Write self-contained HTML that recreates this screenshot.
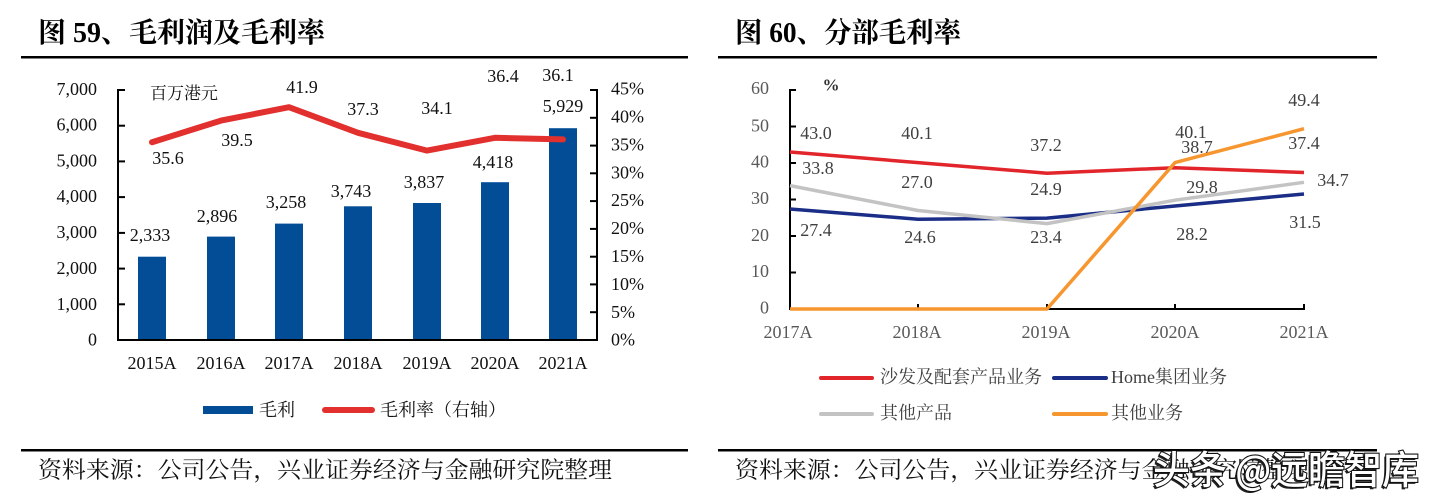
<!DOCTYPE html>
<html>
<head>
<meta charset="utf-8">
<style>
  html,body{margin:0;padding:0;background:#fff;}
  body{width:1433px;height:504px;overflow:hidden;}
  svg{display:block;}
  .serif{font-family:"Liberation Serif","Noto Serif CJK SC",serif;}
  .cjk{font-family:"Liberation Serif","Noto Serif CJK SC","Noto Sans CJK SC",serif;}
</style>
</head>
<body>
<svg width="1433" height="504" viewBox="0 0 1433 504" xmlns="http://www.w3.org/2000/svg">
  <rect width="1433" height="504" fill="#fff"/>

  <!-- ================= LEFT CHART ================= -->
  <text x="38" y="42" class="cjk" font-size="28" font-weight="700" fill="#000" textLength="287" lengthAdjust="spacingAndGlyphs">图 59、毛利润及毛利率</text>
  <rect x="21" y="56" width="667" height="2.5" fill="#000"/>

  <!-- bars -->
  <g fill="#034D97">
    <rect x="138" y="256.7" width="28" height="83.3"/>
    <rect x="207" y="236.6" width="28" height="103.4"/>
    <rect x="275" y="223.6" width="28" height="116.4"/>
    <rect x="344" y="206.3" width="28" height="133.7"/>
    <rect x="413" y="203" width="28" height="137"/>
    <rect x="481" y="182.2" width="28" height="157.8"/>
    <rect x="549" y="128.2" width="28" height="211.8"/>
  </g>

  <!-- axes -->
  <g stroke="#000" stroke-width="2" fill="none">
    <line x1="118" y1="89" x2="118" y2="341"/>
    <line x1="597" y1="89" x2="597" y2="341"/>
    <line x1="117" y1="340" x2="598" y2="340"/>
    <line x1="118" y1="90" x2="125" y2="90"/>
    <line x1="118" y1="125.7" x2="125" y2="125.7"/>
    <line x1="118" y1="161.4" x2="125" y2="161.4"/>
    <line x1="118" y1="197.1" x2="125" y2="197.1"/>
    <line x1="118" y1="232.9" x2="125" y2="232.9"/>
    <line x1="118" y1="268.6" x2="125" y2="268.6"/>
    <line x1="118" y1="304.3" x2="125" y2="304.3"/>
    <line x1="590" y1="90" x2="597" y2="90"/>
    <line x1="590" y1="117.8" x2="597" y2="117.8"/>
    <line x1="590" y1="145.6" x2="597" y2="145.6"/>
    <line x1="590" y1="173.3" x2="597" y2="173.3"/>
    <line x1="590" y1="201.1" x2="597" y2="201.1"/>
    <line x1="590" y1="228.9" x2="597" y2="228.9"/>
    <line x1="590" y1="256.7" x2="597" y2="256.7"/>
    <line x1="590" y1="284.4" x2="597" y2="284.4"/>
    <line x1="590" y1="312.2" x2="597" y2="312.2"/>
  </g>

  <!-- left tick labels -->
  <g class="serif" font-size="18" fill="#111" text-anchor="end" dominant-baseline="central">
    <text x="97" y="89">7,000</text>
    <text x="97" y="124.7">6,000</text>
    <text x="97" y="160.4">5,000</text>
    <text x="97" y="196.1">4,000</text>
    <text x="97" y="232">3,000</text>
    <text x="97" y="268">2,000</text>
    <text x="97" y="304">1,000</text>
    <text x="97" y="339.5">0</text>
  </g>
  <!-- right tick labels -->
  <g class="serif" font-size="18" fill="#111" dominant-baseline="central">
    <text x="611" y="88.5">45%</text>
    <text x="611" y="116.5">40%</text>
    <text x="611" y="144.5">35%</text>
    <text x="611" y="172.3">30%</text>
    <text x="611" y="200">25%</text>
    <text x="611" y="228">20%</text>
    <text x="611" y="256">15%</text>
    <text x="611" y="284">10%</text>
    <text x="611" y="312">5%</text>
    <text x="611" y="339.5">0%</text>
  </g>
  <!-- x labels -->
  <g class="serif" font-size="18" fill="#111" text-anchor="middle" dominant-baseline="central">
    <text x="152" y="363">2015A</text>
    <text x="221" y="363">2016A</text>
    <text x="289" y="363">2017A</text>
    <text x="358" y="363">2018A</text>
    <text x="427" y="363">2019A</text>
    <text x="495" y="363">2020A</text>
    <text x="563" y="363">2021A</text>
  </g>

  <!-- red line -->
  <polyline points="152,142.2 221,120.6 289,107.2 358,132.8 427,150.6 495,137.8 563,139.4" fill="none" stroke="#E1302E" stroke-width="6" stroke-linejoin="round" stroke-linecap="round"/>

  <!-- data labels -->
  <g class="serif" font-size="18" fill="#111" text-anchor="middle" dominant-baseline="central">
    <text x="168" y="158">35.6</text>
    <text x="237" y="140">39.5</text>
    <text x="302" y="87">41.9</text>
    <text x="363" y="109">37.3</text>
    <text x="437" y="108">34.1</text>
    <text x="503" y="76">36.4</text>
    <text x="558" y="75">36.1</text>
    <text x="150" y="235">2,333</text>
    <text x="217" y="216">2,896</text>
    <text x="286" y="202">3,258</text>
    <text x="351" y="191">3,743</text>
    <text x="424" y="182">3,837</text>
    <text x="493" y="162">4,418</text>
    <text x="563" y="106">5,929</text>
  </g>
  <text x="150" y="93.5" class="cjk" font-size="17" fill="#111" dominant-baseline="central">百万港元</text>

  <!-- legend -->
  <rect x="203" y="406" width="50" height="8" fill="#034D97"/>
  <text x="259" y="410" class="cjk" font-size="18" fill="#111" dominant-baseline="central">毛利</text>
  <line x1="325" y1="410" x2="372" y2="410" stroke="#E1302E" stroke-width="6" stroke-linecap="round"/>
  <text x="380" y="410" class="cjk" font-size="18" fill="#111" dominant-baseline="central">毛利率（右轴）</text>

  <!-- source -->
  <rect x="21" y="449" width="667" height="2.5" fill="#000"/>
  <text x="38" y="470" class="cjk" font-size="23" fill="#111" dominant-baseline="central" textLength="574" lengthAdjust="spacingAndGlyphs">资料来源：公司公告，兴业证券经济与金融研究院整理</text>

  <!-- ================= RIGHT CHART ================= -->
  <text x="735" y="42" class="cjk" font-size="28" font-weight="700" fill="#000" textLength="226" lengthAdjust="spacingAndGlyphs">图 60、分部毛利率</text>
  <rect x="718" y="56" width="659" height="2.5" fill="#000"/>

  <!-- axes -->
  <g stroke="#000" stroke-width="2" fill="none">
    <line x1="790" y1="89" x2="790" y2="310"/>
    <line x1="789" y1="309" x2="1305" y2="309"/>
    <line x1="790" y1="90" x2="796" y2="90"/>
    <line x1="790" y1="126.5" x2="796" y2="126.5"/>
    <line x1="790" y1="163" x2="796" y2="163"/>
    <line x1="790" y1="199.5" x2="796" y2="199.5"/>
    <line x1="790" y1="236" x2="796" y2="236"/>
    <line x1="790" y1="272.5" x2="796" y2="272.5"/>
    <line x1="918" y1="309" x2="918" y2="304"/>
    <line x1="1047" y1="309" x2="1047" y2="304"/>
    <line x1="1175" y1="309" x2="1175" y2="304"/>
    <line x1="1304" y1="309" x2="1304" y2="304"/>
  </g>
  <g class="serif" font-size="18" fill="#595959" text-anchor="end" dominant-baseline="central">
    <text x="769" y="88">60</text>
    <text x="769" y="125.5">50</text>
    <text x="769" y="161.5">40</text>
    <text x="769" y="198">30</text>
    <text x="769" y="235">20</text>
    <text x="769" y="271">10</text>
    <text x="769" y="307.5">0</text>
  </g>
  <text x="831" y="85" class="serif" font-size="17" font-weight="700" fill="#333" text-anchor="middle" dominant-baseline="central">%</text>
  <g class="serif" font-size="18" fill="#595959" text-anchor="middle" dominant-baseline="central">
    <text x="788" y="332">2017A</text>
    <text x="917" y="332">2018A</text>
    <text x="1046" y="332">2019A</text>
    <text x="1175" y="332">2020A</text>
    <text x="1304" y="332">2021A</text>
  </g>

  <!-- series -->
  <g fill="none" stroke-width="3.5" stroke-linejoin="round">
    <polyline points="790,152 918,162.6 1047,173.2 1175,167.7 1304,172.5" stroke="#E2252B"/>
    <polyline points="790,209 918,219.2 1047,218.1 1175,206 1304,194" stroke="#1B2E87"/>
    <polyline points="790,185.6 918,210.5 1047,223.6 1175,200.2 1304,182.3" stroke="#C3C3C3"/>
    <polyline points="790,309 918,309 1047,309 1175,162.6 1304,128.7" stroke="#F7962E"/>
  </g>

  <!-- labels -->
  <g class="serif" font-size="18" fill="#404040" text-anchor="middle" dominant-baseline="central">
    <text x="816" y="133">43.0</text>
    <text x="917" y="133">40.1</text>
    <text x="1046" y="145">37.2</text>
    <text x="1191" y="132">40.1</text>
    <text x="1197" y="147">38.7</text>
    <text x="1304" y="100">49.4</text>
    <text x="1304" y="143">37.4</text>
    <text x="818" y="168">33.8</text>
    <text x="917" y="182">27.0</text>
    <text x="1046" y="189">24.9</text>
    <text x="1202" y="187">29.8</text>
    <text x="1333" y="180">34.7</text>
    <text x="816" y="230">27.4</text>
    <text x="920" y="237">24.6</text>
    <text x="1046" y="237">23.4</text>
    <text x="1192" y="234">28.2</text>
    <text x="1305" y="222">31.5</text>
  </g>

  <!-- legend -->
  <g stroke-width="4" stroke-linecap="round">
    <line x1="821" y1="378" x2="872" y2="378" stroke="#E2252B"/>
    <line x1="1054" y1="378" x2="1106" y2="378" stroke="#1B2E87"/>
    <line x1="821" y1="414" x2="872" y2="414" stroke="#C3C3C3"/>
    <line x1="1054" y1="414" x2="1106" y2="414" stroke="#F7962E"/>
  </g>
  <g class="cjk" font-size="18" fill="#404040" dominant-baseline="central">
    <text x="880" y="377">沙发及配套产品业务</text>
    <text x="1111" y="377">Home集团业务</text>
    <text x="880" y="413">其他产品</text>
    <text x="1111" y="413">其他业务</text>
  </g>

  <!-- source -->
  <rect x="718" y="449" width="659" height="2.5" fill="#000"/>
  <text x="735" y="470" class="cjk" font-size="23" fill="#111" dominant-baseline="central" textLength="574" lengthAdjust="spacingAndGlyphs">资料来源：公司公告，兴业证券经济与金融研究院整理</text>

  <!-- watermark -->
  <text x="1151" y="486" font-family="'Noto Sans CJK SC','WenQuanYi Zen Hei',sans-serif" font-size="39" font-weight="500" fill="#222" textLength="266" lengthAdjust="spacingAndGlyphs">头条 @远瞻智库</text>
  <text x="1153" y="484" font-family="'Noto Sans CJK SC','WenQuanYi Zen Hei',sans-serif" font-size="39" font-weight="500" fill="#fff" stroke="#111" stroke-width="2.2" paint-order="stroke fill" textLength="266" lengthAdjust="spacingAndGlyphs">头条 @远瞻智库</text>
</svg>
</body>
</html>
